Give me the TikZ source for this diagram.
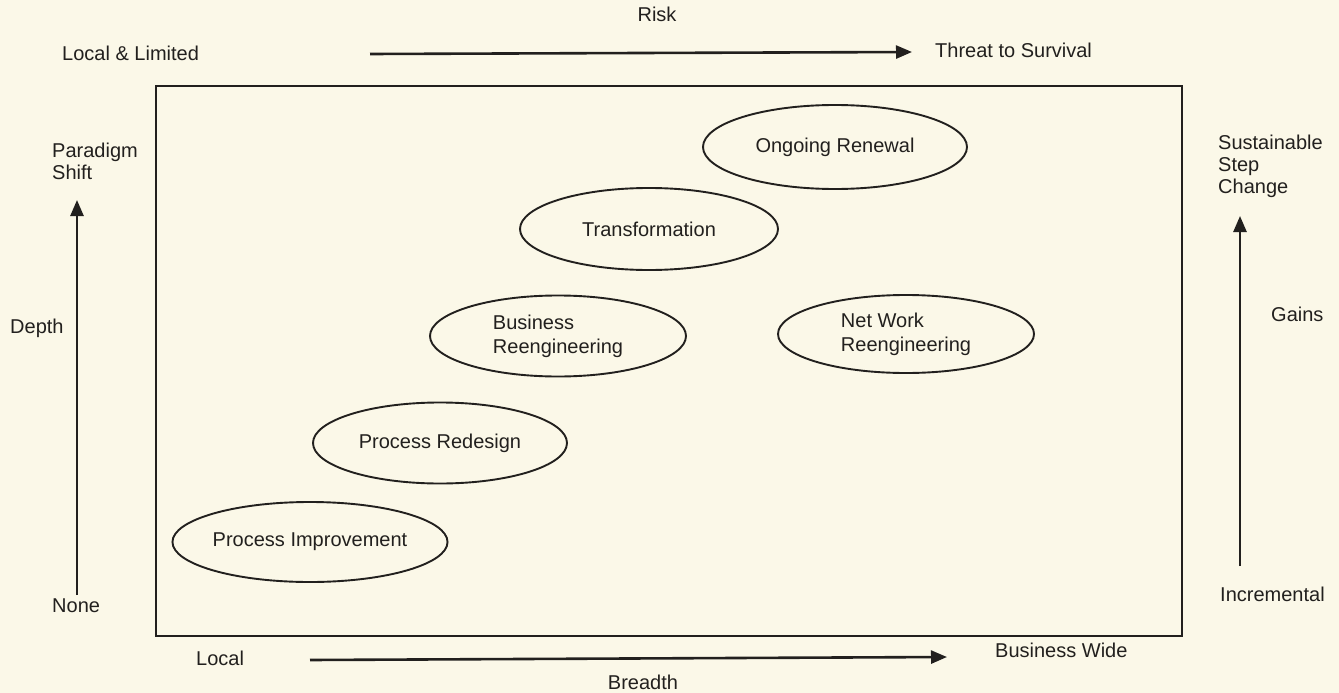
\documentclass[tikz,border=0pt]{standalone}
\usepackage{fontspec}
\setmainfont{Liberation Sans}
\usetikzlibrary{arrows.meta,shapes.geometric}
\definecolor{paper}{RGB}{251,248,232}
\definecolor{ink}{RGB}{34,32,30}
\begin{document}
\begin{tikzpicture}[x=1pt,y=-1pt,
  lbl/.style={text=ink,font=\fontsize{20}{22}\selectfont,inner sep=0pt},
  oval/.style={draw=ink,line width=1.9pt,ellipse,minimum width=2*#1,text=ink,font=\fontsize{20}{24}\selectfont,align=left,inner sep=0pt},
  axis/.style={draw=ink,line width=2.6pt,-{Triangle[length=16pt,width=13pt]}},
  frame/.style={draw=ink,line width=1.9pt}]
\useasboundingbox[fill=paper] (0,0) rectangle (1339,693);
% frame
\node[frame,minimum width=1026pt,minimum height=550pt,inner sep=0pt] (box) at (669,361) {};
% top axis
\node[lbl] (risk) at (657,14) {Risk};
\node[lbl,anchor=west] (ll) at (62,53) {Local \& Limited};
\node[lbl,anchor=west] (ts) at (935,50) {Threat to Survival};
\coordinate (ta1) at (370,54);
\coordinate (ta2) at (912,52);
\draw[axis] (ta1) -- (ta2);
% left axis
\node[lbl,anchor=west,align=left] (ps) at (52,161) {Paradigm\\Shift};
\node[lbl,anchor=west] (depth) at (10,328) {Depth};
\node[lbl,anchor=west] (none) at (52,606) {None};
\coordinate (la1) at (77,595);
\coordinate (la2) at (77,200);
\draw[axis] (la1) -- (la2);
% right axis
\node[lbl,anchor=west,align=left] (ssc) at (1218,166) {Sustainable\\Step\\Change};
\node[lbl,anchor=west] (gains) at (1271,314) {Gains};
\node[lbl,anchor=west] (inc) at (1220,594) {Incremental};
\coordinate (ra1) at (1240,566);
\coordinate (ra2) at (1240,216);
\draw[axis] (ra1) -- (ra2);
% bottom axis
\node[lbl,anchor=west] (loc) at (196,658) {Local};
\node[lbl,anchor=west] (bw) at (995,650) {Business Wide};
\node[lbl] (br) at (643,682) {Breadth};
\coordinate (ba1) at (310,660);
\coordinate (ba2) at (947,657);
\draw[axis] (ba1) -- (ba2);
% ellipses
\node[oval=132pt,minimum height=84pt] (or) at (835,147) {Ongoing Renewal};
\node[oval=129pt,minimum height=82pt] (tr) at (649,229) {Transformation};
\node[oval=128pt,minimum height=81pt] (bre) at (558,336) {Business\\Reengineering};
\node[oval=128pt,minimum height=78pt] (nwr) at (906,334) {Net Work\\Reengineering};
\node[oval=127pt,minimum height=81pt] (prd) at (440,443) {Process Redesign};
\node[oval=128pt,minimum height=80pt] (pim) at (310,542) {Process Improvement};
\end{tikzpicture}
\end{document}
